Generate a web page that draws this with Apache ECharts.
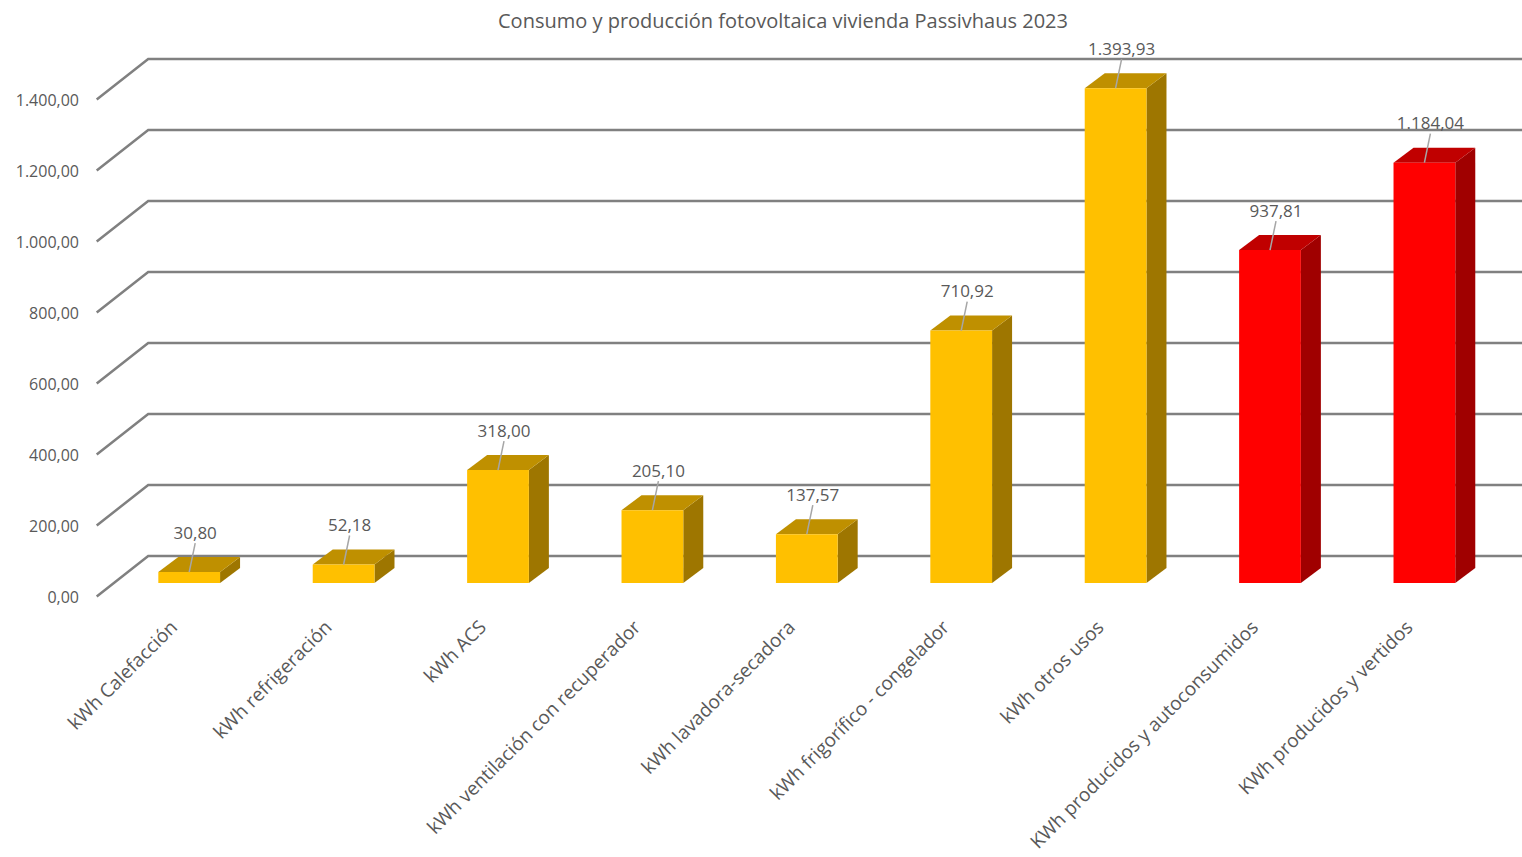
<!DOCTYPE html>
<html><head><meta charset="utf-8">
<script src="https://cdn.jsdelivr.net/npm/echarts@6/dist/echarts.min.js"></script>
<style>html,body{margin:0;padding:0;background:#fff}#chart{width:1522px;height:857px}</style>
</head><body><div id="chart"></div>
<script>
const titleText = 'Consumo y producción fotovoltaica vivienda Passivhaus 2023';
const categories = ['kWh Calefacción', 'kWh refrigeración', 'kWh ACS', 'kWh ventilación con recuperador',
  'kWh lavadora-secadora', 'kWh frigorífico - congelador', 'kWh otros usos',
  'KWh producidos y autoconsumidos', 'KWh producidos y vertidos'];
const values = [30.80, 52.18, 318.00, 205.10, 137.57, 710.92, 1393.93, 937.81, 1184.04];
const kinds = ['consumo', 'consumo', 'consumo', 'consumo', 'consumo', 'consumo', 'consumo', 'produccion', 'produccion'];
const yTicks = [0, 200, 400, 600, 800, 1000, 1200, 1400];

const palette = {
  consumo: { front: '#FFC000', top: '#BF9000', side: '#9E7600' },
  produccion: { front: '#FF0000', top: '#C00000', side: '#A00000' }
};
const textColor = '#595959';
const font = 'Open Sans';
const DEPTH_BAR = [20, -15];      // bar depth
const DEPTH_BACK = [33.5, -27];   // bar front plane -> back wall
const DEPTH_FRONT = [-18, 13.5];  // bar front plane -> floor front edge

function fmtES(v) {
  const s = v.toFixed(2).split('.');
  const int = s[0].replace(/\B(?=(\d{3})+(?!\d))/g, '.');
  return int + ',' + s[1];
}

const chart = echarts.init(document.getElementById('chart'), null, { renderer: 'svg' });

const option = {
  backgroundColor: '#ffffff',
  animation: false,
  title: {
    text: titleText, left: 493, top: 5,
    textStyle: { color: textColor, fontFamily: font, fontSize: 20, fontWeight: 'normal' }
  },
  grid: { left: 112, right: 20.4, top: 86, bottom: 274, outerBoundsMode: 'none', containLabel: false },
  xAxis: {
    type: 'category', data: categories,
    axisLine: { show: false }, axisTick: { show: false },
    axisLabel: {
      interval: 0, rotate: 45, margin: 25, padding: [0, 22, 0, 0],
      color: textColor, fontFamily: font, fontSize: 19
    }
  },
  yAxis: {
    type: 'value', min: 0, max: 1400, interval: 200,
    axisLine: { show: false }, axisTick: { show: false }, splitLine: { show: false },
    axisLabel: {
      margin: 33, verticalAlign: 'top', lineHeight: 28,
      color: textColor, fontFamily: font, fontSize: 16,
      formatter: v => fmtES(v)
    }
  },
  series: [
    {
      type: 'custom', name: 'grid', z: 1, silent: true, clip: false,
      encode: { x: 0, y: 1 },
      data: yTicks.map(v => [0, v]),
      renderItem: function (params, api) {
        const cs = params.coordSys;
        const y = api.coord([0, api.value(1)])[1];
        const x0 = cs.x + 2.7;
        const fx = x0 + DEPTH_FRONT[0], fy = y + DEPTH_FRONT[1];
        const bx = x0 + DEPTH_BACK[0], by = y + DEPTH_BACK[1];
        return {
          type: 'polyline',
          shape: { points: [[fx, fy], [bx, by], [api.getWidth(), by]] },
          style: { stroke: '#808080', lineWidth: 2.5, fill: null }
        };
      }
    },
    {
      type: 'custom', name: 'kWh', z: 5, clip: false,
      encode: { x: 0, y: 1 },
      data: values.map((v, i) => [i, v]),
      renderItem: function (params, api) {
        const i = api.value(0), v = api.value(1);
        const c = palette[kinds[i]];
        const base = api.coord([i, 0]);
        const top = api.coord([i, v]);
        const w = api.size([1, 0])[0] * 0.4;
        const cx = base[0];
        const l = cx - w / 2, r = cx + w / 2;
        const ty = top[1], by = base[1];
        const dx = DEPTH_BAR[0], dy = DEPTH_BAR[1];
        return {
          type: 'group',
          children: [
            { type: 'polygon', shape: { points: [[r, ty], [r + dx, ty + dy], [r + dx, by + dy], [r, by]] },
              style: { fill: c.side } },
            { type: 'polygon', shape: { points: [[l, ty], [r, ty], [r + dx, ty + dy], [l + dx, ty + dy]] },
              style: { fill: c.top } },
            { type: 'rect', shape: { x: l, y: ty, width: w, height: by - ty },
              style: { fill: c.front } },
            { type: 'line', shape: { x1: cx + 6, y1: ty - 29, x2: cx, y2: ty },
              style: { stroke: '#A6A6A6', lineWidth: 1.5 } },
            { type: 'text', x: cx + 6, y: ty - 40,
              style: { text: fmtES(v), fill: textColor, font: '17px "Open Sans"',
                align: 'center', verticalAlign: 'middle' } }
          ]
        };
      }
    }
  ]
};
chart.setOption(option);
</script></body></html>
